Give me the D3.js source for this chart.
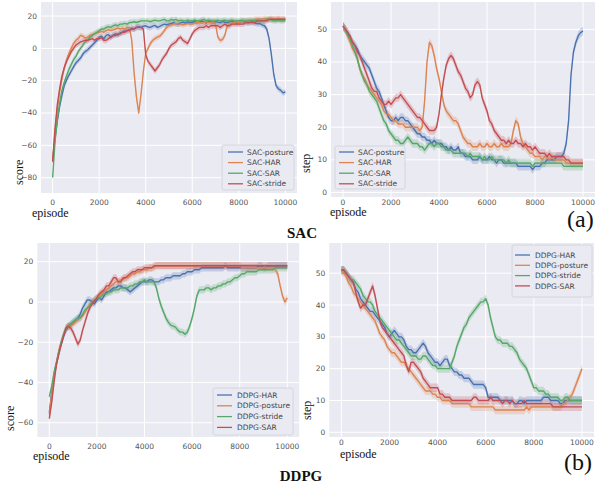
<!DOCTYPE html>
<html>
<head>
<meta charset="utf-8">
<script src="https://cdn.jsdelivr.net/npm/d3@7"></script>
<style>
  body { margin: 0; background: #fff; }
  svg text { font-family: "DejaVu Sans", sans-serif; }
  svg text.serif { font-family: "Liberation Serif", "Times New Roman", serif; }
</style>
</head>
<body>
<svg id="chart" width="597" height="487"></svg>
<script>
// ---- data (one value every 100 episodes) ----
var episodes = d3.range(0, 10001, 100);
var xTicks = [0, 2000, 4000, 6000, 8000, 10000];
var colors = ["#4c72b0", "#dd8452", "#55a868", "#c44e52"];

var sacNames = ["SAC-posture", "SAC-HAR", "SAC-SAR", "SAC-stride"];
var ddpgNames = ["DDPG-HAR", "DDPG-posture", "DDPG-stride", "DDPG-SAR"];

var scoreTicksSac = [-80, -60, -40, -20, 0, 20];
var scoreTicksDdpg = [-60, -40, -20, 0, 20];
var stepTicks = [0, 10, 20, 30, 40, 50];

// SAC score
var sacScorePosture = [-70,-56,-45,-36,-29,-23,-19.5,-16.5,-14,-11.5,-9,-7.5,-6,-3.5,-2,-1,0.5,2,3.5,5,
  7,7.5,6,8,8.5,7,8,9,8.2,9.6,10,10.8,11,11.8,12.5,12,13,13.4,12.8,13.8,
  14,13.2,13,13.8,14.2,13,13.6,14.4,15,14.6,15,15.4,16,15.2,15,15.8,16.2,15.6,16.4,16,
  16,16.8,15.8,16.2,17,16.2,15.8,16.8,16.4,16,16.6,16.2,15.8,16.8,16.2,16,16.4,17,16.2,15.8,
  16,16.4,16.8,16.2,15.8,16.2,16.4,15.6,15.2,15.4,14.6,14,12,6,-4,-16,-23,-25,-26,-27.5,-27];
var sacScoreHar = [-70,-52,-38,-27,-19,-12,-7,-3,0,3,5,6,8,7.5,6.5,7,8,8.5,9,9.5,
  10,10.5,10,11,11.5,11,11.5,12,12.5,12,12.5,12,13,13,5,-15,-30,-40,-28,-14,
  -3,0,3,5,6,7,7.5,9,11,13,14,14.5,15,15.5,15,15,14.5,15,15.5,15,
  15,15.5,16,16,15.5,16,16.5,16,16,16.5,15,7,5,5.5,8,14,15,15.5,16,16.5,
  16,16.5,17,17,17.5,17,17.5,18,18,18,18,18.5,18,18,18.5,18,18,18.5,18,18,18];
var sacScoreSar = [-80,-58,-44,-34,-26,-21,-17,-13,-10,-7,-5,-2,0,2,4,5,7,8,9,10,
  11,12,12,13,13.5,13,14,14.5,14,15,15,15.5,15,16,16,16.5,16,16.5,17,17,
  17,17,16.5,17,17.5,17,17,17.5,18,17,17,18,17.5,18,17,17.5,17,17,17.5,17,
  17,17.5,17,17,17.5,18,17,17.5,17,17,17,17.5,17,17,17.5,17,17,17.5,17,17,
  17,17.5,17,17,17,17.5,17,17,17.5,17,17,17,18,18,17.5,17,17,17.5,17,17,17.5];
var sacScoreStride = [-70,-50,-35,-25,-17,-12,-8,-5,-2,0,2,3,4,4.5,5,5,5.5,6,5,6,
  6,6.5,5,5,6,7,8,8,9,9,10,10,11,11,12,12,13,13,13,12,
  -4,-8,-10,-12,-14,-12,-10,-7,-5,-3,0,2,3,4,6,7,5,4,3,6,
  9,11,12,13,13,13,14,13,14,14,14,14,13,14,15,14,14,15,15,15,
  15,15,15,16,16,16,16,16,17,17,17,17,17,18,18,18,18,18,18,18,18];

// SAC step
var sacStepPosture = [51,50,49,47,46,45,44,42,41,40,39,38,36,34,32,31,29,27,25,23,
  22,22,23,22,23,23,22,22,21,20,19,18,18,17,17,16,16,15,16,15,
  15,15,14,14,13,14,13,13,14,12,12,11,11,11,10,10,10,11,10,10,
  10,11,10,10,9,10,10,9,9,9,9,9,9,8,8,8,8,8,8,7,
  8,8,8,9,9,10,10,10,10,11,11,11,12,15,22,36,43,46,48,49,49.5];
var sacStepHar = [51,50,48,46,44,43,41,38,36,35,33,32,31,30,29,28,27,25,24,24,
  23,22,22,21,21,21,20,20,20,20,20,20,19,20,28,40,46,45,42,38,
  35,31,27,25,24,23,22,22,21,19,17,16,15,15,14,14,14,15,14,14,
  15,14,14,15,14,14,15,14,14,14,15,19,22,21,17,15,14,13,12,12,
  11,11,11,10,11,11,10,11,10,10,10,10,10,9,9,9,9,9,9,9,9];
var sacStepSar = [51,50,48,47,45,43,41,38,36,34,33,31,30,29,28,26,24,22,21,19,
  18,17,16,16,15,15,16,17,16,15,15,15,14,14,13,14,15,15,14,15,
  15,14,14,13,13,13,12,12,12,12,12,12,11,12,11,11,11,11,10,11,
  10,10,11,10,10,10,10,10,9,10,9,9,9,9,9,9,9,9,9,8,
  9,9,9,9,9,9,9,9,9,9,9,9,8,8,8,8,8,8,8,8,8];
var sacStepStride = [51,50,49,48,46,45,43,42,40,38,36,34,32,31,31,29,28,27,27,28,
  27,28,29,29,30,29,28,27,26,25,24,23,23,22,21,20,19,19,19,20,
  24,30,35,39,41,42,41,39,37,36,34,32,31,29,30,33,34,33,29,27,
  25,22,21,19,18,17,16,16,15,16,15,15,16,15,15,14,15,14,14,13,
  14,13,12,12,12,11,12,11,11,11,11,11,11,10,10,9,9,9,9,9,9];

// DDPG score
var ddpgScoreHar = [-55,-45,-37,-31,-25,-21,-17,-14,-12,-11,-10,-9,-8,-6,-3,-1,1,1,0,-1,
  1,2,1,3,5,5,6,7,7,8,8,7,7,6,5,6,7,8,9,10,
  10,10,11,11,10,10,10,11,11,12,12,12,13,13,13,13,14,14,15,15,
  15,16,16,16,17,17,17,17,17,17,17,17,17,17,18,17,17,17,17,17,
  17,17,17,17,17,17,17,17,18,18,17,17,18,18,18,18,18,18,18,18,18];
var ddpgScorePosture = [-56,-46,-36,-30,-24,-20,-16,-13,-12,-12,-11,-10,-9,-8,-7,-5,-3,-1,0,1,
  2,3,4,5,6,7,8,9,10,10,11,11,12,12,13,14,14,15,15,16,
  16,16,17,17,17,18,18,18,18,18,18,18,18,18,18,18,18,18,18,18,
  18,18,18,18,18,18,18,18,18,18,18,18,18,18,18,18,18,18,18,18,
  18,17,17,17,17,17,17,17,17,17,17,17,17,17,17,16,14,8,3,0,2];
var ddpgScoreStride = [-47,-42,-35,-30,-25,-20,-16,-13,-12,-11,-10,-9,-8,-8,-6,-4,-3,-2,0,1,
  2,2,3,4,4,5,5,6,6,6,7,7,7,7,8,8,9,9,10,10,
  11,10,10,10,10,7,2,-2,-5,-8,-10,-11.5,-12,-12.5,-14,-15,-15,-16,-15,-12,
  -8,-3,3,6,6,6,7,7,6,7,7,8,8,9,9,10,10,11,12,12,
  13,14,14,15,15,15,15,15,16,16,16,16,16,16,16,17,17,17,17,17,17];
var ddpgScoreSar = [-58,-50,-40,-31,-26,-21,-17,-13,-12,-13,-15,-18,-21,-19,-14,-10,-6,-3,-1,0.5,
  2,4,5,6,8,8,10,12,12,10,10,12,12,13,14,15,15,16,16,16,
  17,17,17,17,18,18,18,18,18,18,18,18,18,18,18,18,18,18,18,18,
  18,18,18,18,18,18,18,18,18,18,18,18,18,18,18,18,18,18,18,18,
  18,18,18,18,18,18,18,18,18,18,18,18,18,18,18,18,18,18,18,18,18];

// DDPG step
var ddpgStepHar = [51,51,50,49,48,47,45,44,42,41,40,39,38,38,37,36,35,34,33,31,
  30,31,32,31,30,30,29,27,26,26,25,25,26,27,28,27,25,24,23,22,
  22,21,22,23,23,21,20,19,19,18,18,17,17,17,16,15,15,15,15,15,
  14,11,11,11,11,11,10,10,10,10,10,10,9,9,10,10,9,10,10,10,
  10,10,10,10,11,11,11,10,10,10,10,9,9,10,10,10,10,10,10,10,10];
var ddpgStepPosture = [51,50,49,47,46,44,43,42,41,40,39,38,37,36,35,33,31,30,29,27,
  26,25,25,24,23,22,22,21,20,19,18,17,16,15,14,13,13,13,12,12,
  11,11,10,10,10,10,9,9,9,9,9,9,9,9,8,8,8,8,8,8,
  8,8,8,8,7,7,7,7,7,7,7,7,7,7,7,7,7,8,7,8,
  8,8,8,8,8,8,8,8,8,8,8,8,9,9,10,11,12,14,16,18,20];
var ddpgStepStride = [51,51,50,49,48,48,47,46,45,43,42,41,41,40,38,37,36,35,34,33,
  32,31,30,29,29,28,27,26,25,24,24,24,23,23,24,24,23,22,21,21,
  20,20,20,20,20,20,22,24,27,29,31,33,34,36,37,38,39,40,41,41,
  42,40,36,33,30,29,29,28,28,28,27,27,26,25,23,22,21,20,18,16,
  14,14,13,13,13,12,12,11,11,11,11,10,10,11,11,10,10,10,10,10,10];
var ddpgStepSar = [51,51,50,49,48,47,44,41,39,40,40,42,44,46,43,39,35,33,32,31,
  30,29,28,27,26,25,24,21,19,22,22,21,20,19,17,16,15,14,14,14,
  14,12,12,11,11,11,10,10,10,10,10,10,10,10,10,11,11,10,10,10,
  10,10,11,10,10,10,10,9,10,10,9,10,9,9,9,9,10,9,9,9,
  9,9,9,9,9,9,9,9,8,8,8,8,8,8,8,8,8,8,8,8,8];

// ---- panel layout ----
var panels = [
  { series: [sacScorePosture, sacScoreHar, sacScoreSar, sacScoreStride], names: sacNames,
    band: 1.8, yTicks: scoreTicksSac, yDomain: [-89.5, 28.7],
    l: 41, r: 297, t: 2, b: 193, xLabelY: 204.5,
    ylabel: "score", ylabelX: 22.5, ylabelY: 185, epX: 32, epY: 217,
    legend: { x: 222, y: 145, w: 72, h: 45, lx: 228, tx: 247, y0: 152, dy: 10.6 } },
  { series: [sacStepPosture, sacStepHar, sacStepSar, sacStepStride], names: sacNames,
    band: 1.3, yTicks: stepTicks, yDomain: [-1.4, 58.4],
    l: 331, r: 595, t: 2, b: 197, xLabelY: 204.5,
    ylabel: "step", ylabelX: 310, ylabelY: 173, epX: 330, epY: 216,
    legend: { x: 335, y: 146, w: 70, h: 43, lx: 339, tx: 358, y0: 152, dy: 10.6 } },
  { series: [ddpgScoreHar, ddpgScorePosture, ddpgScoreStride, ddpgScoreSar], names: ddpgNames,
    band: 1.8, yTicks: scoreTicksDdpg, yDomain: [-67.1, 29.3],
    l: 37.4, r: 299.2, t: 243, b: 437, xLabelY: 448.5,
    ylabel: "score", ylabelX: 13.5, ylabelY: 431, epX: 33, epY: 460,
    legend: { x: 213, y: 388, w: 80, h: 47, lx: 217, tx: 237, y0: 395, dy: 10.8 } },
  { series: [ddpgStepHar, ddpgStepPosture, ddpgStepStride, ddpgStepSar], names: ddpgNames,
    band: 1.3, yTicks: stepTicks, yDomain: [-1.48, 59.5],
    l: 329.3, r: 594, t: 243, b: 437, xLabelY: 445,
    ylabel: "step", ylabelX: 311, ylabelY: 420, epX: 340, epY: 458,
    legend: { x: 512, y: 245, w: 80, h: 52, lx: 515, tx: 535, y0: 255, dy: 10.3 } }
];

var svg = d3.select("#chart");
svg.append("rect").attr("width", 597).attr("height", 487).attr("fill", "#fff");

// the source picture is a soft scan, so blur the plotted data a touch
svg.append("defs").append("filter").attr("id", "soft")
  .append("feGaussianBlur").attr("stdDeviation", 0.35);

panels.forEach(function(p, pi) {
  var x = d3.scaleLinear().domain([-500, 10500]).range([p.l, p.r]);
  var y = d3.scaleLinear().domain(p.yDomain).range([p.b, p.t]);
  var g = svg.append("g");

  g.append("clipPath").attr("id", "clip" + pi)
    .append("rect").attr("x", p.l).attr("y", p.t).attr("width", p.r - p.l).attr("height", p.b - p.t);

  g.append("rect").attr("x", p.l).attr("y", p.t).attr("width", p.r - p.l).attr("height", p.b - p.t)
    .attr("fill", "#eaeaf2");

  // grid
  g.selectAll(".gx").data(xTicks).enter().append("line")
    .attr("x1", d => x(d)).attr("x2", d => x(d)).attr("y1", p.t).attr("y2", p.b)
    .attr("stroke", "#fff").attr("stroke-width", 1);
  g.selectAll(".gy").data(p.yTicks).enter().append("line")
    .attr("y1", d => y(d)).attr("y2", d => y(d)).attr("x1", p.l).attr("x2", p.r)
    .attr("stroke", "#fff").attr("stroke-width", 1);

  // tick labels
  g.selectAll(".tx").data(xTicks).enter().append("text")
    .attr("x", d => x(d)).attr("y", p.xLabelY).attr("text-anchor", "middle")
    .style("font-size", "7.5px").attr("fill", "#555").text(d => d);
  g.selectAll(".ty").data(p.yTicks).enter().append("text")
    .attr("x", p.l - 4).attr("y", d => y(d)).attr("dy", "0.33em").attr("text-anchor", "end")
    .style("font-size", "7.5px").attr("fill", "#555").text(d => d3.format("d")(d));

  // bands and lines
  var plot = g.append("g").attr("clip-path", "url(#clip" + pi + ")")
    .append("g").attr("filter", "url(#soft)");
  var area = d3.area().x((d, i) => x(episodes[i]))
    .y0(d => y(d - p.band)).y1(d => y(d + p.band));
  var line = d3.line().x((d, i) => x(episodes[i])).y(d => y(d));
  p.series.forEach(function(s, si) {
    plot.append("path").datum(s).attr("d", area)
      .attr("fill", colors[si]).attr("opacity", 0.25);
  });
  p.series.forEach(function(s, si) {
    plot.append("path").datum(s).attr("d", line)
      .attr("fill", "none").attr("stroke", colors[si]).attr("stroke-width", 1.4)
      .attr("stroke-linejoin", "round");
  });

  // legend
  var L = p.legend;
  g.append("rect").attr("x", L.x).attr("y", L.y).attr("width", L.w).attr("height", L.h)
    .attr("rx", 2).attr("fill", "#eaeaf2").attr("stroke", "#d0d0d8").attr("stroke-width", 0.8);
  p.names.forEach(function(n, i) {
    var yy = L.y0 + i * L.dy;
    g.append("line").attr("x1", L.lx).attr("x2", L.lx + 15).attr("y1", yy).attr("y2", yy)
      .attr("stroke", colors[i]).attr("stroke-width", 1.3);
    g.append("text").attr("x", L.tx).attr("y", yy).attr("dy", "0.35em")
      .style("font-size", "7.5px").attr("fill", "#444").text(n);
  });

  // axis labels
  g.append("text").attr("class", "serif")
    .attr("transform", "translate(" + p.ylabelX + "," + p.ylabelY + ") rotate(-90)")
    .style("font-size", "12px").attr("fill", "#111").text(p.ylabel);
  g.append("text").attr("class", "serif").attr("x", p.epX).attr("y", p.epY)
    .style("font-size", "12px").attr("fill", "#111").text("episode");
});

// captions
svg.append("text").attr("class", "serif").attr("x", 302).attr("y", 238).attr("text-anchor", "middle")
  .style("font-size", "15px").style("font-weight", "bold").attr("fill", "#111").text("SAC");
svg.append("text").attr("class", "serif").attr("x", 301).attr("y", 481).attr("text-anchor", "middle")
  .style("font-size", "15px").style("font-weight", "bold").attr("fill", "#111").text("DDPG");
svg.append("text").attr("class", "serif").attr("x", 567).attr("y", 227)
  .style("font-size", "24px").attr("fill", "#111").text("(a)");
svg.append("text").attr("class", "serif").attr("x", 564).attr("y", 470)
  .style("font-size", "24px").attr("fill", "#111").text("(b)");
</script>
</body>
</html>
